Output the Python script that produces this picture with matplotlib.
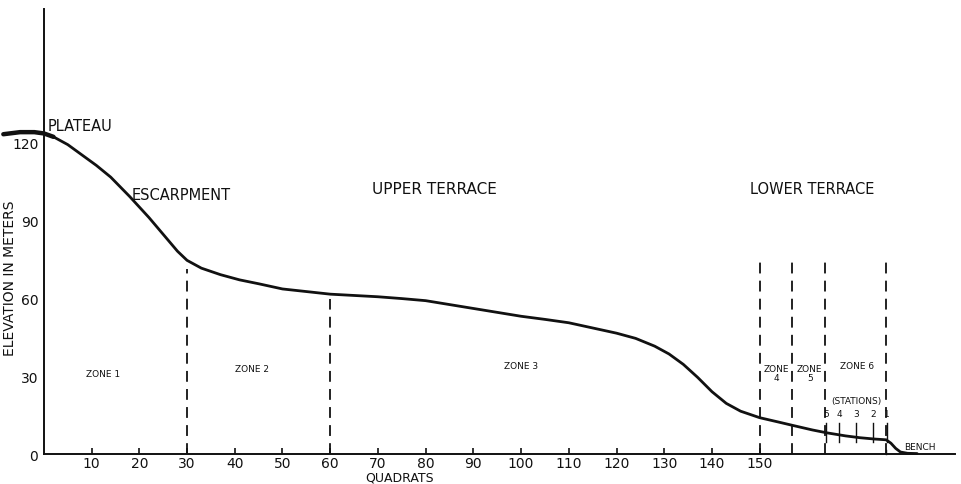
import matplotlib
matplotlib.use("Agg")
import matplotlib.pyplot as plt

# ---- data ----
quadrat = [-8.5, -5, -2, 0, 2, 5, 8, 11, 14, 18, 22, 25, 28, 30, 33, 37, 41, 45, 50, 55, 60,
           65, 70, 75, 80, 85, 90, 95, 100, 105, 110, 115, 120, 124, 128, 131, 134, 137,
           140, 143, 146, 150, 154, 157, 161, 164, 168, 171, 174, 176.5, 177.5, 178.5,
           179.5, 181, 183]
elevation = [123, 123.8, 123.8, 123.3, 122, 119, 115, 111, 106.5, 99, 91, 84.5, 78, 74.5,
             71.5, 69, 67, 65.5, 63.5, 62.5, 61.5, 61, 60.5, 59.8, 59, 57.5, 56, 54.5, 53,
             51.8, 50.5, 48.5, 46.5, 44.5, 41.5, 38.5, 34.5, 29.5, 24, 19.5, 16.5, 14,
             12.3, 11, 9.3, 8.2, 7, 6.3, 5.8, 5.5, 4.2, 2.2, 0.8, 0.3, 0.2]

zone_bounds = [30, 60, 150, 156.8, 163.7, 176.5]
zone_bound_top = [71, 59.5, 75, 75, 75, 76]
zone_names = ["ZONE 1", "ZONE 2", "ZONE 3", "ZONE\n4", "ZONE\n5", "ZONE 6"]
zone_label_x = [12.5, 43.7, 100, 153.5, 160.5, 170.5]
zone_label_y = [31, 33, 34, 31, 31, 34]

station_x = [163.9, 166.7, 170.2, 173.8, 176.7]
station_labels = ["5", "4", "3", "2", "1"]

region_names = ["PLATEAU", "ESCARPMENT", "UPPER TERRACE", "LOWER TERRACE"]
region_x = [0.7, 18.4, 68.8, 148]
region_y = [126.5, 100, 102, 102]
region_size = [10.5, 10.5, 11, 10.5]

x_ticks = [10, 20, 30, 40, 50, 60, 70, 80, 90, 100, 110, 120, 130, 140, 150]
y_ticks = [0, 30, 60, 90, 120]

# ---- figure ----
fig = plt.figure(figsize=(9.62, 4.85), dpi=100)
ax = fig.add_axes([0, 0, 1, 1])
ax.set_xlim(-9.2, 192.4)
ax.set_ylim(-11.5, 175)

ink = "#111111"
ax.spines["top"].set_visible(False)
ax.spines["right"].set_visible(False)
ax.spines["left"].set_position(("data", 0))
ax.spines["bottom"].set_position(("data", 0))
ax.spines["left"].set_bounds(0, 171)
ax.spines["bottom"].set_bounds(0, 191)
for s in ("left", "bottom"):
    ax.spines[s].set_linewidth(1.4)
    ax.spines[s].set_color(ink)

ax.set_xticks(x_ticks)
ax.set_xticklabels([str(v) for v in x_ticks], fontsize=10, color=ink)
ax.tick_params(axis="x", direction="in", length=4, width=1.2, pad=1.5, colors=ink)
ax.set_yticks(y_ticks)
ax.set_yticklabels([str(v) for v in y_ticks], fontsize=10, color=ink)
ax.tick_params(axis="y", length=0, pad=4, colors=ink)
ax.patch.set_alpha(0)

# profile
ax.plot(quadrat, elevation, color=ink, lw=2.0, solid_capstyle="round", zorder=3)
ax.plot(quadrat[:5], elevation[:5], color=ink, lw=3.2, solid_capstyle="round", zorder=3)

# zone boundaries
for xb, top in zip(zone_bounds, zone_bound_top):
    ax.plot([xb, xb], [0, top], color=ink, lw=1.3, ls=(0, (6, 4)), zorder=2)

# zone labels
for name, zx, zy in zip(zone_names, zone_label_x, zone_label_y):
    ax.text(zx, zy, name, fontsize=6.5, ha="center", va="center", color=ink,
            linespacing=1.0)

# stations
ax.text(170.3, 20.5, "(STATIONS)", fontsize=6.5, ha="center", va="center", color=ink)
for sx, sl in zip(station_x, station_labels):
    ax.text(sx, 15.5, sl, fontsize=6.5, ha="center", va="center", color=ink)
    ax.plot([sx, sx], [4.5, 12], color=ink, lw=1.0, zorder=3)

ax.text(180.3, 3.0, "BENCH", fontsize=6.5, ha="left", va="center", color=ink)
ax.plot([176.5, 176.5], [0, 1.5], color=ink, lw=1.0)

# region names
for name, rx, ry, fs in zip(region_names, region_x, region_y, region_size):
    ax.text(rx, ry, name, fontsize=fs, ha="left", va="center", color=ink)

# axis titles
ax.text(-7.0, 68, "ELEVATION IN METERS", rotation=90, fontsize=10, ha="center",
        va="center", color=ink)
ax.text(74.5, -9.0, "QUADRATS", fontsize=9, ha="center", va="center", color=ink)

fig.savefig("out.png", dpi=100, facecolor="white")
